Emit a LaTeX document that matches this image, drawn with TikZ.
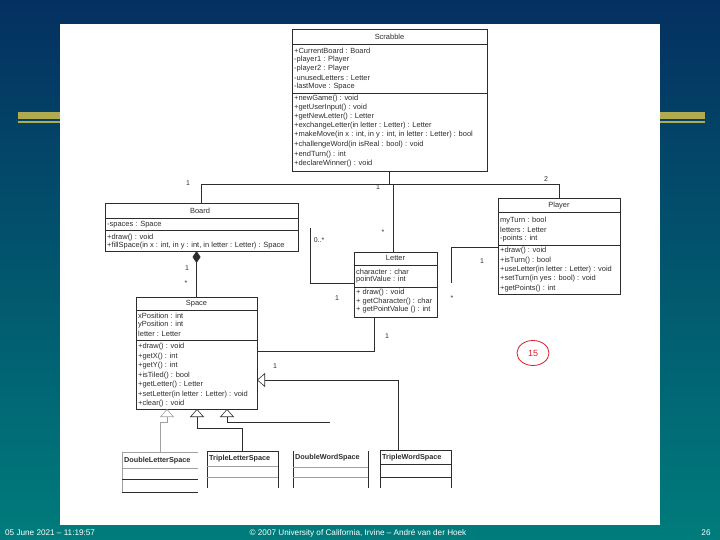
\documentclass[tikz,border=0pt]{standalone}
\usepackage{fontspec}
\setmainfont{Liberation Sans}
\usetikzlibrary{arrows.meta,calc,shapes.geometric}
\definecolor{bgtop}{RGB}{4,48,96}
\definecolor{bgbot}{RGB}{0,124,124}
\definecolor{olivebar}{RGB}{176,170,80}
\definecolor{ink}{RGB}{45,45,45}
\definecolor{faint}{RGB}{160,160,160}
\definecolor{pen}{RGB}{220,30,40}
\begin{document}
\begin{tikzpicture}[x=1bp,y=-1bp,
  box/.style={draw=ink, line width=0.7bp, anchor=north west, inner sep=0, outer sep=0},
  nobox/.style={anchor=north west, inner sep=0, outer sep=0},
  txt/.style={anchor=west, inner sep=0, text=ink, font=\fontsize{7.5}{8}\selectfont},
  ttl/.style={inner sep=0, text=ink, font=\fontsize{7.5}{8}\selectfont},
  subttl/.style={anchor=west, inner sep=0, text=ink, font=\bfseries\fontsize{7.3}{8}\selectfont},
  lbl/.style={inner sep=0, text=ink, font=\fontsize{7}{8}\selectfont},
  conn/.style={draw=ink, line width=0.7bp},
  thinconn/.style={draw=faint, line width=0.6bp},
  foot/.style={inner sep=0, text=white, font=\fontsize{8.2}{9}\selectfont},
  gen/.style={-{Triangle[open, length=8bp, width=14bp, line width=0.6bp]}},
]
\useasboundingbox (0,0) rectangle (720,540);
\shade[top color=bgtop, bottom color=bgbot] (0,0) rectangle (720,540);
% olive bars
\fill[olivebar] (18,112) rectangle (60,119);
\fill[olivebar] (18,121) rectangle (60,123);
\fill[olivebar] (660,112) rectangle (705,119);
\fill[olivebar] (660,121) rectangle (705,123);
% white sheet
\fill[white] (60,24) rectangle (660,525);

% ---------- Scrabble ----------
\node[box, minimum width=195bp, minimum height=142bp] (scrabble) at (292,29) {};
\node[ttl] (scrT) at (389.5,37) {Scrabble};
\draw[conn, line width=1bp] (scrabble.west |- 0,45) -- (scrabble.east |- 0,45);
\node[txt] (sa1) at (294,51) {+CurrentBoard : Board};
\node[txt] (sa2) at (294,60) {-player1 : Player};
\node[txt] (sa3) at (294,69) {-player2 : Player};
\node[txt] (sa4) at (294,78) {-unusedLetters : Letter};
\node[txt] (sa5) at (294,87) {-lastMove : Space};
\draw[conn] (scrabble.west |- 0,93) -- (scrabble.east |- 0,93);
\node[txt] (sm1) at (294,99) {+newGame() : void};
\node[txt] (sm2) at (294,108) {+getUserInput() : void};
\node[txt] (sm3) at (294,117) {+getNewLetter() : Letter};
\node[txt] (sm4) at (294,126) {+exchangeLetter(in letter : Letter) : Letter};
\node[txt] (sm5) at (294,135) {+makeMove(in x : int, in y : int, in letter : Letter) : bool};
\node[txt] (sm6) at (294,145) {+challengeWord(in isReal : bool) : void};
\node[txt] (sm7) at (294,155) {+endTurn() : int};
\node[txt] (sm8) at (294,164) {+declareWinner() : void};

% ---------- Board ----------
\node[box, minimum width=193bp, minimum height=48bp] (board) at (105,203) {};
\node[ttl] (bT) at (200,211) {Board};
\draw[conn] (board.west |- 0,218) -- (board.east |- 0,218);
\node[txt] (ba1) at (107,225) {-spaces : Space};
\draw[conn] (board.west |- 0,230) -- (board.east |- 0,230);
\node[txt] (bm1) at (107,238) {+draw() : void};
\node[txt] (bm2) at (107,246) {+fillSpace(in x : int, in y : int, in letter : Letter) : Space};

% ---------- Letter ----------
\node[box, minimum width=83bp, minimum height=65bp] (letter) at (354,252) {};
\node[ttl] (lT) at (395.5,258) {Letter};
\draw[conn] (letter.west |- 0,265) -- (letter.east |- 0,265);
\node[txt] (la1) at (356,272) {character : char};
\node[txt] (la2) at (356,280) {pointValue : int};
\draw[conn] (letter.west |- 0,287) -- (letter.east |- 0,287);
\node[txt] (lm1) at (356,293) {+ draw() : void};
\node[txt] (lm2) at (356,301.5) {+ getCharacter() : char};
\node[txt] (lm3) at (356,310) {+ getPointValue () : int};

% ---------- Player ----------
\node[box, minimum width=122bp, minimum height=96bp] (player) at (498,198) {};
\node[ttl] (pT) at (559,206) {Player};
\draw[conn] (player.west |- 0,212) -- (player.east |- 0,212);
\node[txt] (pa1) at (500,221) {myTurn : bool};
\node[txt] (pa2) at (500,230) {letters : Letter};
\node[txt] (pa3) at (500,239) {-points : int};
\draw[conn] (player.west |- 0,245) -- (player.east |- 0,245);
\node[txt] (pm1) at (500,251) {+draw() : void};
\node[txt] (pm2) at (500,260.5) {+isTurn() : bool};
\node[txt] (pm3) at (500,270) {+useLetter(in letter : Letter) : void};
\node[txt] (pm4) at (500,279) {+setTurn(in yes : bool) : void};
\node[txt] (pm5) at (500,288.5) {+getPoints() : int};

% ---------- Space ----------
\node[box, minimum width=121bp, minimum height=112bp] (space) at (136,297) {};
\node[ttl] (spT) at (196.5,304) {Space};
\draw[conn] (space.west |- 0,310) -- (space.east |- 0,310);
\node[txt] (spa1) at (138,316) {xPosition : int};
\node[txt] (spa2) at (138,325) {yPosition : int};
\node[txt] (spa3) at (138,333.5) {letter : Letter};
\draw[conn] (space.west |- 0,340) -- (space.east |- 0,340);
\node[txt] (spm1) at (138,347) {+draw() : void};
\node[txt] (spm2) at (138,356.5) {+getX() : int};
\node[txt] (spm3) at (138,366) {+getY() : int};
\node[txt] (spm4) at (138,375.5) {+isTiled() : bool};
\node[txt] (spm5) at (138,385) {+getLetter() : Letter};
\node[txt] (spm6) at (138,394.5) {+setLetter(in letter : Letter) : void};
\node[txt] (spm7) at (138,404) {+clear() : void};

% ---------- subclasses ----------
\node[nobox, minimum width=76bp, minimum height=40bp] (dls) at (122,452) {};
\draw[faint, line width=0.6bp] (dls.south west) -- (dls.north west) -- (dls.north east);
\draw[faint, line width=0.6bp] (dls.west |- 0,468) -- (dls.east |- 0,468);
\draw[conn] (dls.west |- 0,479) -- (dls.east |- 0,479);
\draw[conn] (dls.south west) -- (dls.south east);
\node[subttl] (dlsT) at (124,461) {DoubleLetterSpace};

\node[nobox, minimum width=71bp, minimum height=37bp] (tls) at (207,451) {};
\draw[conn] (tls.south west) -- (tls.north west) -- (tls.north east) -- (tls.south east);
\draw[faint, line width=0.6bp] (tls.west |- 0,466) -- (tls.east |- 0,466);
\draw[faint, line width=0.6bp] (tls.west |- 0,477) -- (tls.east |- 0,477);
\node[subttl] (tlsT) at (209,459) {TripleLetterSpace};

\node[nobox, minimum width=75bp, minimum height=37bp] (dws) at (293,451) {};
\draw[conn] (dws.north west) -- (dws.south west);
\draw[conn] (dws.north east) -- (dws.south east);
\draw[faint, line width=0.6bp] (dws.west |- 0,467) -- (dws.east |- 0,467);
\draw[faint, line width=0.6bp] (dws.west |- 0,477) -- (dws.east |- 0,477);
\node[subttl] (dwsT) at (295,458) {DoubleWordSpace};

\node[nobox, minimum width=71bp, minimum height=38bp] (tws) at (380,450) {};
\draw[conn] (tws.south west) -- (tws.north west) -- (tws.north east) -- (tws.south east);
\draw[conn] (tws.west |- 0,464) -- (tws.east |- 0,464);
\draw[conn] (tws.west |- 0,477) -- (tws.east |- 0,477);
\node[subttl] (twsT) at (382,458) {TripleWordSpace};

% ---------- connectors ----------
\draw[conn] (scrabble.south) -- ++(0,13) coordinate (j);
\draw[conn] (j) -| (board.north);
\draw[conn] (j) -| (player.north);
\draw[conn] (j -| 393,0) -- (letter.north -| 393,0);

\draw[conn, {Diamond[length=12bp,width=8bp]}-] (space.north |- board.south) -- (space.north);

\draw[conn] (letter.south -| 374,0) |- (space.east |- 0,351);
\draw[conn, gen] (tws.north -| 398,0) |- (space.east |- 0,380);

\draw[thinconn, gen] (dls.north -| 160,0) |- (167,422) -- (space.south -| 167,0);
\draw[conn, gen] (tls.north -| 242,0) |- (197,428) -- (space.south -| 197,0);
\coordinate (g3) at (330,422);
\draw[conn, gen] (g3) -| (space.south -| 227,0);

\coordinate (bfree) at (310,228);
\draw[conn] (letter.west |- 0,283) -| (bfree);
\coordinate (pfree) at (451,283);
\draw[conn] (player.west |- 0,247) -| (pfree);

% ---------- multiplicities ----------
\node[lbl] (m1) at (188,183) {1};
\node[lbl] (m2) at (546,179) {2};
\node[lbl] (m3) at (378,187) {1};
\node[lbl] (m4) at (383,232) {*};
\node[lbl] (m5) at (319,240) {0..*};
\node[lbl] (m6) at (187,268) {1};
\node[lbl] (m7) at (186,283) {*};
\node[lbl] (m8) at (337,298) {1};
\node[lbl] (m9) at (482,261) {1};
\node[lbl] (m10) at (452,298) {*};
\node[lbl] (m11) at (387,336) {1};
\node[lbl] (m12) at (275,366) {1};

% ---------- hand mark ----------
\node[draw=pen, line width=0.8bp, ellipse, minimum width=32bp, minimum height=25bp, inner sep=0,
      text=pen, font=\fontsize{9}{10}\selectfont] (mark) at (533,353) {15};

% ---------- footer ----------
\node[foot, anchor=west] (f1) at (5,533) {05 June 2021 – 11:19:57};
\node[foot] (f2) at (358,533) {© 2007 University of California, Irvine – André van der Hoek};
\node[foot] (f3) at (706,533) {26};
\end{tikzpicture}
\end{document}
